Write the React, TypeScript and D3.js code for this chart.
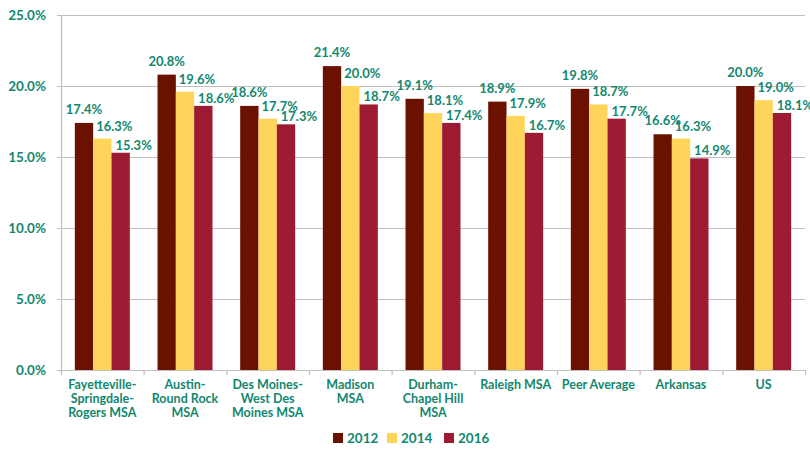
import React, { useRef, useEffect } from 'react';
import * as d3 from 'd3';

const categories = [
    'Fayetteville-\nSpringdale-\nRogers MSA',
    'Austin-\nRound Rock\nMSA',
    'Des Moines-\nWest Des\nMoines MSA',
    'Madison\nMSA',
    'Durham-\nChapel Hill\nMSA',
    'Raleigh MSA',
    'Peer Average',
    'Arkansas',
    'US',
];
const years = ['2012', '2014', '2016'];
const values2012 = [17.4, 20.8, 18.6, 21.4, 19.1, 18.9, 19.8, 16.6, 20.0];
const values2014 = [16.3, 19.6, 17.7, 20.0, 18.1, 17.9, 18.7, 16.3, 19.0];
const values2016 = [15.3, 18.6, 17.3, 18.7, 17.4, 16.7, 17.7, 14.9, 18.1];
const yTicks = [0, 5, 10, 15, 20, 25];

const colors = ['#6b1100', '#ffd45b', '#9c1b33'];
const teal = '#12876f';
const font = 'Lato, "Open Sans", sans-serif';

const App: React.FC = () => {
    const svgRef = useRef<SVGSVGElement | null>(null);

    useEffect(() => {
        if (!svgRef.current) return;
        const svg = d3.select(svgRef.current);
        svg.selectAll('*').remove();

        const margin = { top: 15, right: 5, bottom: 80, left: 61 };
        const width = 810;
        const height = 450;
        const innerWidth = width - margin.left - margin.right;
        const innerHeight = height - margin.top - margin.bottom;

        const series = [values2012, values2014, values2016];

        const x = d3.scaleBand<number>()
            .domain(d3.range(categories.length))
            .range([0, innerWidth])
            .paddingInner(0.335)
            .paddingOuter(0.1675);

        const xSub = d3.scaleBand<number>()
            .domain([0, 1, 2])
            .range([0, x.bandwidth()]);

        const y = d3.scaleLinear().domain([0, 25]).range([innerHeight, 0]);

        const g = svg.append('g')
            .attr('transform', `translate(${margin.left},${margin.top})`);

        // gridlines + y labels
        g.selectAll('line.grid')
            .data(yTicks)
            .enter()
            .append('line')
            .attr('x1', -4)
            .attr('x2', innerWidth)
            .attr('y1', d => y(d) + 0.5)
            .attr('y2', d => y(d) + 0.5)
            .attr('stroke', '#bfbfbf')
            .attr('stroke-width', 1.2);

        g.selectAll('text.ytick')
            .data(yTicks)
            .enter()
            .append('text')
            .attr('x', -15)
            .attr('y', d => y(d) + 5)
            .attr('text-anchor', 'end')
            .attr('fill', teal)
            .style('font-family', font)
            .style('font-weight', 700)
            .style('font-size', '13.5px')
            .text(d => d.toFixed(1) + '%');

        // y axis line
        g.append('line')
            .attr('x1', 0.5).attr('x2', 0.5)
            .attr('y1', 0).attr('y2', innerHeight)
            .attr('stroke', '#bfbfbf')
            .attr('stroke-width', 1.2);

        // x tick marks at band boundaries
        const step = x.step();
        g.selectAll('line.xtick')
            .data(d3.range(categories.length + 1))
            .enter()
            .append('line')
            .attr('x1', i => Math.min(i * step, innerWidth) + 0.5)
            .attr('x2', i => Math.min(i * step, innerWidth) + 0.5)
            .attr('y1', innerHeight)
            .attr('y2', innerHeight + 5)
            .attr('stroke', '#bfbfbf')
            .attr('stroke-width', 1.2);

        const groups = g.selectAll('g.cat')
            .data(categories)
            .enter()
            .append('g')
            .attr('transform', (_, i) => `translate(${x(i)},0)`);

        // label nudges, like the hand-placed labels in the original
        const labelShift = [0, 12, 13];
        const labelGap = [9, 8, 3];

        groups.each(function (_, ci) {
            const grp = d3.select(this);
            series.forEach((s, si) => {
                const v = s[ci];
                grp.append('rect')
                    .attr('x', xSub(si) ?? 0)
                    .attr('y', y(v))
                    .attr('width', xSub.bandwidth())
                    .attr('height', innerHeight - y(v))
                    .attr('fill', colors[si]);
                grp.append('text')
                    .attr('x', (xSub(si) ?? 0) + xSub.bandwidth() / 2 + labelShift[si])
                    .attr('y', y(v) - labelGap[si])
                    .attr('text-anchor', 'middle')
                    .attr('fill', teal)
                    .style('font-family', font)
                    .style('font-weight', 700)
                    .style('font-size', '13px')
                    .text(v.toFixed(1) + '%');
            });
        });

        // category labels
        groups.append('text')
            .attr('text-anchor', 'middle')
            .attr('fill', teal)
            .style('font-family', font)
            .style('font-weight', 700)
            .style('font-size', '12.5px')
            .each(function (d) {
                const t = d3.select(this);
                d.split('\n').forEach((line, li) => {
                    t.append('tspan')
                        .attr('x', x.bandwidth() / 2)
                        .attr('y', innerHeight + 19 + li * 14)
                        .text(line);
                });
            });

        // legend
        const legendX = [333, 387, 444];
        const legend = svg.append('g');
        years.forEach((yr, i) => {
            legend.append('rect')
                .attr('x', legendX[i])
                .attr('y', 433)
                .attr('width', 10)
                .attr('height', 10)
                .attr('fill', colors[i]);
            legend.append('text')
                .attr('x', legendX[i] + 14)
                .attr('y', 443)
                .attr('fill', teal)
                .style('font-family', font)
                .style('font-weight', 700)
                .style('font-size', '13.5px')
                .text(yr);
        });
    }, []);

    return (
        <svg
            ref={svgRef}
            width={810}
            height={450}
            style={{ position: 'absolute', left: 0, top: 0, background: '#fff' }}
        />
    );
};

export default App;
